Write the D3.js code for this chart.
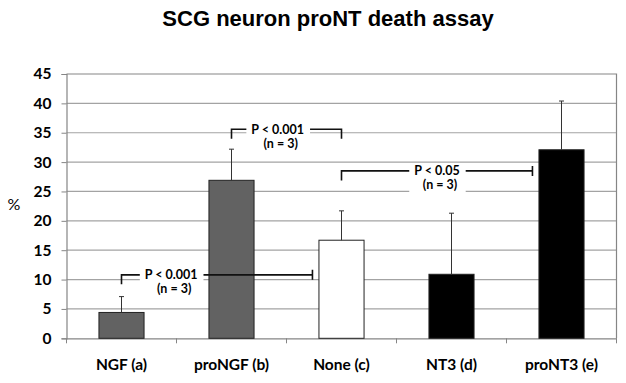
<!DOCTYPE html>
<html>
<head>
<meta charset="utf-8">
<script src="https://cdn.jsdelivr.net/npm/d3@7"></script>
<style>
  body { margin: 0; background: #fff; }
  svg { display: block; }
  .axis text { font-family: Lato, "Open Sans", sans-serif; font-weight: bold; font-size: 15.5px; fill: #000; }
  .note { font-family: Lato, "Open Sans", sans-serif; font-weight: bold; font-size: 12.5px; fill: #000; }
</style>
</head>
<body>
<svg id="draw"></svg>
<script>
// chart data
var categories = ["NGF (a)", "proNGF (b)", "None (c)", "NT3 (d)", "proNT3 (e)"];
var values = [4.4, 26.9, 16.7, 10.9, 32.1];
var errors = [2.7, 5.3, 5.0, 10.4, 8.3];
var yTicks = [0, 5, 10, 15, 20, 25, 30, 35, 40, 45];

// significance brackets
var bracketFrom = ["proNGF (b)", "None (c)", "NGF (a)"];
var bracketTo = ["None (c)", "proNT3 (e)", "None (c)"];
var bracketY = [35.6, 28.5, 10.8];
var bracketP = ["P < 0.001", "P < 0.05", "P < 0.001"];
var bracketN = ["(n = 3)", "(n = 3)", "(n = 3)"];

var W = 626, H = 383;
var margin = { top: 74, right: 9.5, bottom: 44.7, left: 66.5 };
var width = W - margin.left - margin.right;
var height = H - margin.top - margin.bottom;

var colors = ["#626262", "#626262", "#ffffff", "#000000", "#000000"];

var svg = d3.select("#draw")
  .attr("width", W)
  .attr("height", H);

svg.append("text")
  .attr("x", 328)
  .attr("y", 26)
  .attr("text-anchor", "middle")
  .style("font-family", "'Liberation Sans', Arial, sans-serif")
  .style("font-weight", "bold")
  .style("font-size", "22px")
  .text("SCG neuron proNT death assay");

svg.append("text")
  .attr("x", 14)
  .attr("y", 210)
  .attr("text-anchor", "middle")
  .style("font-family", "Lato, sans-serif")
  .style("font-size", "16px")
  .text("%");

var g = svg.append("g")
  .attr("transform", "translate(" + margin.left + "," + margin.top + ")");

var x = d3.scaleBand()
  .domain(categories)
  .range([0, width])
  .padding(0);

var y = d3.scaleLinear()
  .domain([0, 45])
  .range([height, 0]);

var barW = x.bandwidth() * 0.41;

// gridlines
g.selectAll(".grid")
  .data(yTicks.filter(function(d) { return d > 0 && d < 45; }))
  .enter().append("line")
  .attr("class", "grid")
  .attr("x1", 0)
  .attr("x2", width)
  .attr("y1", function(d) { return y(d); })
  .attr("y2", function(d) { return y(d); })
  .attr("stroke", "#a3a3a3")
  .attr("stroke-width", 1.2);

// plot frame (top and right)
g.append("path")
  .attr("d", "M0," + y(45) + "H" + width + "V" + y(0))
  .attr("fill", "none")
  .attr("stroke", "#858585")
  .attr("stroke-width", 1.2);

// y axis
var yAxis = g.append("g")
  .attr("class", "axis")
  .call(d3.axisLeft(y).tickValues(yTicks).tickSize(5).tickPadding(10));
yAxis.select(".domain").attr("stroke", "#858585").attr("stroke-width", 1.2);
yAxis.selectAll(".tick line").attr("stroke", "#858585");

// x axis
var xAxis = g.append("g")
  .attr("class", "axis")
  .attr("transform", "translate(0," + height + ")")
  .call(d3.axisBottom(x).tickSize(0).tickPadding(21));
xAxis.select(".domain").attr("stroke", "#858585").attr("stroke-width", 1.2);

// ticks between categories
g.selectAll(".xtick")
  .data(categories.concat(["end"]))
  .enter().append("line")
  .attr("class", "xtick")
  .attr("x1", function(d, i) { return i * x.step(); })
  .attr("x2", function(d, i) { return i * x.step(); })
  .attr("y1", height)
  .attr("y2", height + 5)
  .attr("stroke", "#858585");

// bars
g.selectAll(".bar")
  .data(values)
  .enter().append("rect")
  .attr("class", "bar")
  .attr("x", function(d, i) { return x(categories[i]) + x.bandwidth() / 2 - barW / 2; })
  .attr("y", function(d) { return y(d); })
  .attr("width", barW)
  .attr("height", function(d) { return y(0) - y(d); })
  .attr("fill", function(d, i) { return colors[i]; })
  .attr("stroke", "#222")
  .attr("stroke-width", 1);

// error bars (upper only)
var cx = function(c) { return x(c) + x.bandwidth() / 2; };
g.selectAll(".err")
  .data(values)
  .enter().append("path")
  .attr("class", "err")
  .attr("d", function(d, i) {
    var px = cx(categories[i]);
    return "M" + px + "," + y(d) + "V" + y(d + errors[i]) +
      "M" + (px - 2.5) + "," + y(d + errors[i]) + "H" + (px + 2.5);
  })
  .attr("fill", "none")
  .attr("stroke", "#333")
  .attr("stroke-width", 1);

// brackets
var labelAt = [0.42, 0.5, 0.26];
bracketY.forEach(function(v, i) {
  var x1 = cx(bracketFrom[i]);
  var downRight = i === 0;
  var x2 = downRight ? cx(bracketTo[i]) : cx(bracketTo[i]) - barW / 2 - 6.5;
  var yy = y(v);
  var tx = x1 + (x2 - x1) * labelAt[i];

  var b = g.append("g");
  var t1 = b.append("text").attr("class", "note")
    .attr("x", tx).attr("y", yy + 4.5).attr("text-anchor", "middle").text(bracketP[i]);
  var t2 = b.append("text").attr("class", "note")
    .attr("x", tx + 3).attr("y", yy + 18.5).attr("text-anchor", "middle").text(bracketN[i]);
  var bb = t1.node().getBBox();
  var gap0 = bb.x - 5, gap1 = bb.x + bb.width + 6;

  b.insert("rect", "text")
    .attr("x", gap0).attr("y", bb.y)
    .attr("width", gap1 - gap0).attr("height", yy + 22 - bb.y)
    .attr("fill", "#fff");

  var p = "M" + x1 + "," + (yy + 9.5) + "V" + yy + "H" + gap0 +
    "M" + gap1 + "," + yy + "H" + x2;
  if (downRight) {
    p += "V" + (yy + 9.5);
  } else {
    p += "M" + x2 + "," + (yy - 5) + "V" + (yy + 5);
  }
  b.append("path")
    .attr("d", p)
    .attr("fill", "none")
    .attr("stroke", "#111")
    .attr("stroke-width", 1.6);
});
</script>
</body>
</html>
